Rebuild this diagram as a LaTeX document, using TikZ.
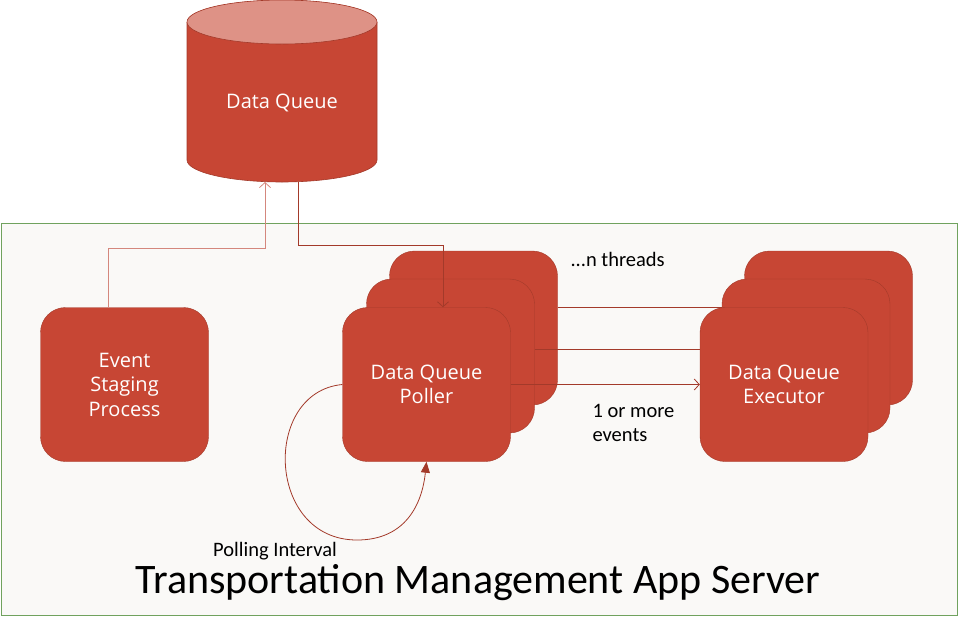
\documentclass[tikz,border=0pt]{standalone}
\usepackage{fontspec}
\setmainfont{Carlito}
\newfontfamily\boxfont{Open Sans}
\usetikzlibrary{arrows.meta}

\definecolor{dqred}{HTML}{C74634}
\definecolor{dqedge}{HTML}{A33A2A}
\definecolor{dqtop}{HTML}{DE9286}
\definecolor{dqlink}{HTML}{D4877D}
\definecolor{srvgreen}{HTML}{70A25E}
\definecolor{srvback}{HTML}{FAF9F7}

\begin{document}
\begin{tikzpicture}
[x=1pt,y=-1pt,%
  task/.style={shape=rectangle,rounded corners=25pt,fill=dqred,draw=dqedge,
    minimum width=168pt,minimum height=154pt,text=white,align=center,
    font=\boxfont\fontsize{20}{24.5}\selectfont},%
  link/.style={draw=dqedge,line width=0.8pt},%
  label/.style={font=\fontsize{20.5}{24}\selectfont,align=left}]
\useasboundingbox (0,0) rectangle (959,630);
%% app server frame
\draw[draw=srvgreen,fill=srvback,line width=0.9pt] (1,223) rectangle (957,615);
%%
\fill[dqred] (187,22) -- (187,160) arc (180:360:95pt and 22pt)
  -- (377,22) arc (0:180:95pt and 22pt) -- cycle;
\draw[dqedge,line width=0.6pt] (187,22) -- (187,160) arc (180:360:95pt and 22pt)
  -- (377,22);
\draw[dqedge,fill=dqtop,line width=0.6pt] (282,22) ellipse (95pt and 22pt);
\node[text=white,font=\boxfont\fontsize{20}{24.5}\selectfont] (dq) at (282,103) {Data Queue};
\coordinate (dqin) at (265,182);
\coordinate (dqout) at (298,182);
%%
\node[task] (esp) at (124.5,384.5) {Event\\Staging\\Process};
%%
\foreach \name/\cx/\cy in {poller3/473.5/328, poller2/450.5/356}
{
  \node[task] (\name) at (\cx,\cy) {};
}
\node[task] (poller) at (426.5,384.5) {Data Queue\\Poller};
%%
\foreach \name/\cx/\cy in {exec3/828.5/328, exec2/806/356}
{
  \node[task] (\name) at (\cx,\cy) {};
}
\node[task] (exec) at (784,384.5) {Data Queue\\Executor};
%%
\draw[link,draw=dqlink,-{Straight Barb[length=5pt,width=11pt]}]
  ([xshift=-16.5pt]esp.north) -- ++(0,-59) -| (dqin);
\draw[link,-{Straight Barb[length=5pt,width=11pt]}]
  (dqout) -- (298,245) -| ([xshift=16.5pt]poller.north);
\draw[link] ([yshift=21pt]poller3.east) -- ([yshift=21pt]poller3.east -| exec2.west);
\draw[link] ([yshift=7pt]poller2.east) -- ([yshift=7pt]poller2.east -| exec.west);
\draw[link,-{Straight Barb[length=5pt,width=11pt]}] (poller.east) -- (exec.west);
\draw[link,-{Triangle[length=11pt,width=9pt]}] (poller.west)
  .. controls (262,392) and (266,540) .. (357,540)
  .. controls (405,540) and (422,505) .. (poller.south);
%% labels
\node[label,anchor=west] (threads) at (567,259) {...n threads};
\node[label,anchor=north west] (events) at (589,401) {1 or more\\events};
\node[label] (interval) at (275,551) {Polling Interval};
\node[font=\fontsize{42}{48}\selectfont] (title) at (478,583) {Transportation Management App Server};
\end{tikzpicture}
\end{document}
